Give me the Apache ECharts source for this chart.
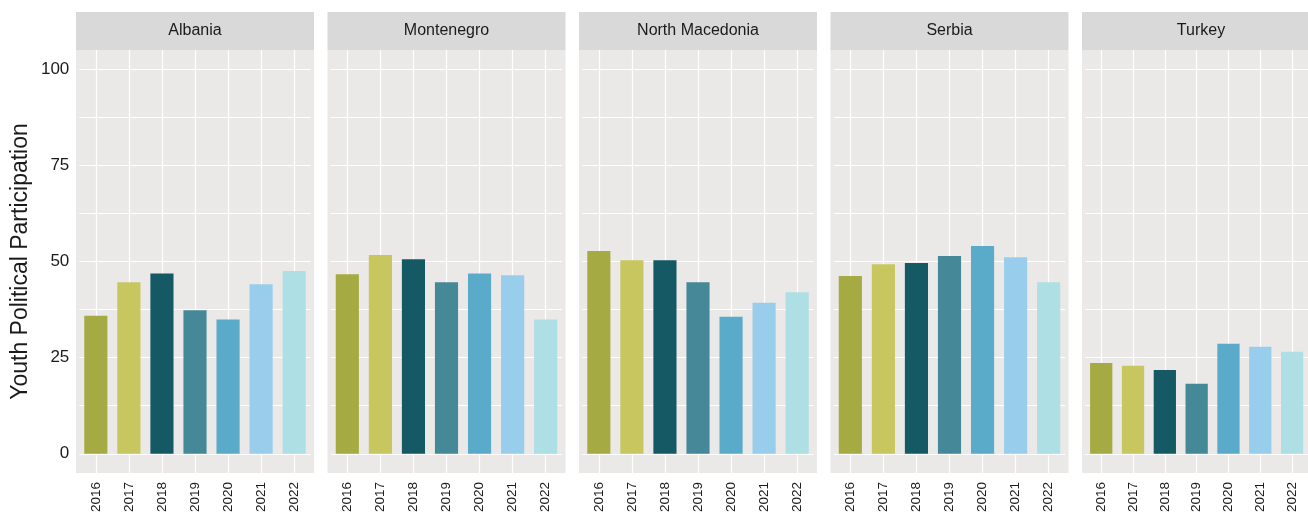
<!DOCTYPE html>
<html>
<head>
<meta charset="utf-8">
<script src="https://cdn.jsdelivr.net/npm/echarts@6/dist/echarts.min.js"></script>
<style>
  html, body { margin: 0; padding: 0; background: #fff; }
  #chart { width: 1308px; height: 516px; }
</style>
</head>
<body>
<div id="chart"></div>
<script>
// data
const countries = ['Albania', 'Montenegro', 'North Macedonia', 'Serbia', 'Turkey'];
const years = ['2016', '2017', '2018', '2019', '2020', '2021', '2022'];
const yearColors = ['#a5ab42', '#c8c65e', '#155965', '#458898', '#5aabca', '#98ceec', '#aedfe5'];

const albania = [35.9, 44.6, 46.9, 37.3, 34.9, 44.1, 47.5];
const montenegro = [46.7, 51.7, 50.6, 44.6, 46.9, 46.4, 34.9];
const northMacedonia = [52.7, 50.3, 50.3, 44.6, 35.6, 39.3, 42.0];
const serbia = [46.2, 49.3, 49.6, 51.4, 54.0, 51.1, 44.6];
const turkey = [23.6, 22.9, 21.8, 18.2, 28.6, 27.8, 26.5];
const values = [albania, montenegro, northMacedonia, serbia, turkey];

const yGridValues = [0, 12.5, 25, 37.5, 50, 62.5, 75, 87.5, 100];
const yLabelValues = [0, 25, 50, 75, 100];

var chart = echarts.init(document.getElementById('chart'));

// panel geometry (ggplot-like facets, discrete axis expanded by 0.6 of a band)
var panelLeft = 76, panelStep = 251.5, panelWidth = 238;
var panelTop = 50, panelHeight = 423;
var band = panelWidth / 7.2;
var inset = band * 0.1;

var grids = [], xAxes = [], yAxes = [], series = [], graphics = [];

countries.forEach(function (name, i) {
    var left = panelLeft + i * panelStep;
    grids.push({
        left: left + inset, top: panelTop, width: band * 7, height: panelHeight
    });
    xAxes.push({
        type: 'category', gridIndex: i, data: years,
        axisLine: { show: false },
        axisTick: { show: false },
        axisLabel: { rotate: 90, margin: 9, color: '#1a1a1a', fontSize: 13.5, fontFamily: 'Liberation Sans' },
        splitLine: { show: true, alignWithLabel: true, lineStyle: { color: '#ffffff', width: 1.2 } }
    });
    yAxes.push({
        type: 'value', gridIndex: i, min: -5, max: 105,
        name: i === 0 ? 'Youth Political Participation' : '',
        nameLocation: 'middle', nameGap: 47,
        nameTextStyle: { fontSize: 23, color: '#1a1a1a', fontFamily: 'Liberation Sans' },
        axisLine: { show: false },
        axisTick: { show: false, customValues: yGridValues },
        axisLabel: {
            show: i === 0, customValues: yLabelValues, margin: 10,
            color: '#1a1a1a', fontSize: 17, fontFamily: 'Liberation Sans'
        },
        splitLine: { show: true, lineStyle: { color: '#ffffff', width: 1.2 } }
    });
    series.push({
        type: 'bar', xAxisIndex: i, yAxisIndex: i, barWidth: '70%',
        data: values[i],
        itemStyle: { color: function (p) { return yearColors[p.dataIndex]; } },
        silent: true
    });
    // panel background and facet strip
    graphics.push({
        type: 'rect', left: left, top: panelTop, z: -10,
        shape: { width: panelWidth, height: panelHeight },
        style: { fill: '#eae9e7' }
    });
    graphics.push({
        type: 'rect', left: left, top: 12, z: -10,
        shape: { width: panelWidth, height: 38 },
        style: { fill: '#d9d9d9' }
    });
    graphics.push({
        type: 'text', x: left + panelWidth / 2, y: 31,
        style: {
            text: name, fill: '#1a1a1a', fontSize: 16, fontFamily: 'Liberation Sans',
            align: 'center', verticalAlign: 'middle'
        }
    });
});

chart.setOption({
    backgroundColor: '#ffffff',
    animation: false,
    grid: grids,
    xAxis: xAxes,
    yAxis: yAxes,
    series: series,
    graphic: graphics
});
</script>
</body>
</html>
